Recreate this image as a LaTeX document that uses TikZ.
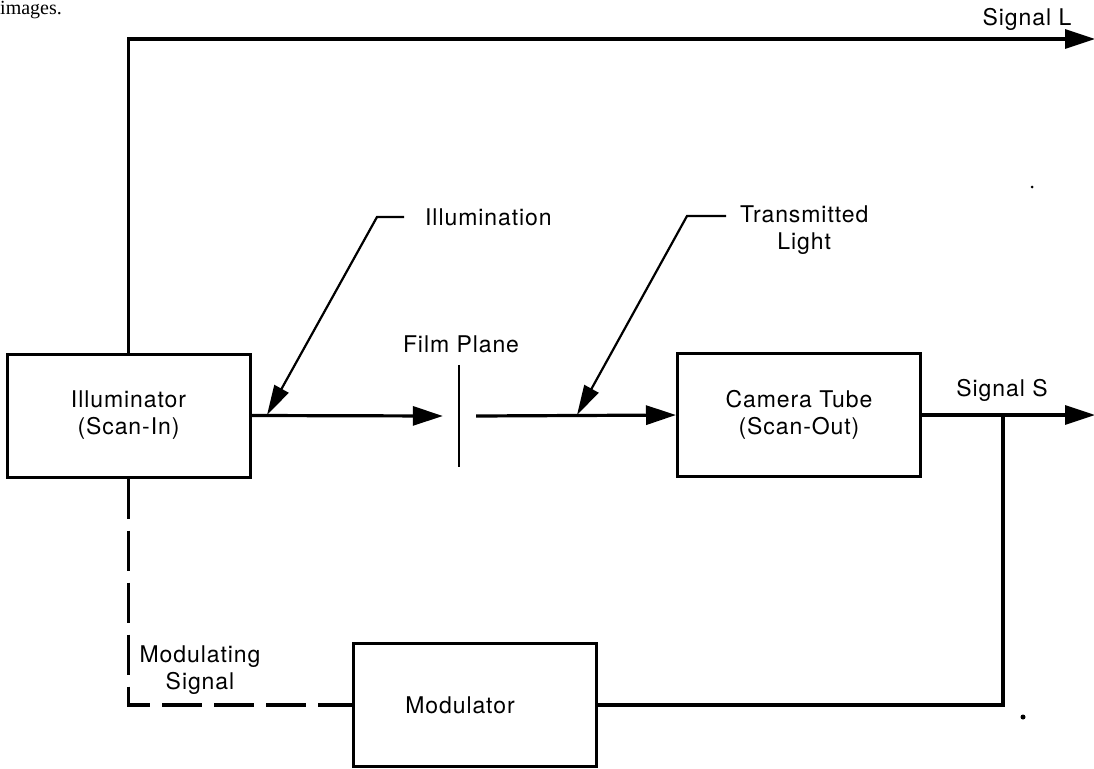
\documentclass[tikz,border=0pt]{standalone}
\usepackage{fontspec}
\setmainfont[LetterSpace=4]{TeX Gyre Heros}
\newfontfamily\serifpage{Liberation Serif}
\usetikzlibrary{arrows.meta}
\tikzset{
  box/.style={draw, line width=3pt, minimum width=243pt, minimum height=123pt, inner sep=0pt, align=center, font=\lbl},
  wire/.style={line width=3.2pt},
  thinwire/.style={line width=2.2pt},
  dashwire/.style={line width=3.2pt, dash pattern=on 40pt off 12pt},
  bigarrow/.style={-{Triangle[length=30pt,width=19pt]}},
  ptrarrow/.style={-{Triangle[length=30pt,width=16pt]}},
  lbl/.style={font=\lbl, inner sep=0pt, align=center},
}
\newcommand{\lbl}{\fontsize{23}{27}\selectfont}
\begin{document}
\begin{tikzpicture}[x=1pt,y=-1pt]
\useasboundingbox (0,0) rectangle (1094,768);
\node[anchor=base west, inner sep=0pt, font=\serifpage\fontsize{20}{24}\selectfont] (pagetext) at (0,15) {images.};

% boxes
\node[box] (illum) at (128.5,415.5) {Illuminator\\(Scan-In)};
\node[box] (cam) at (799,415) {Camera Tube\\(Scan-Out)};
\node[box] (mod) at (475,705) {\hspace*{-30pt}Modulator};

% film plane
\node[minimum height=102pt, minimum width=0pt, inner sep=0pt] (film) at (459,416) {};
\draw[thinwire] (film.north) -- (film.south);
\node[lbl] (filmlbl) at (461,344) {Film Plane};

% output coordinates
\coordinate (sigL) at (1095,39);
\coordinate (sigS) at (1095,415);
\coordinate (junc) at (1003,415);

% top signal L
\draw[wire, bigarrow] (illum.north) |- (sigL);
\node[lbl] (sigLlbl) at (1027,19) {Signal L};

% main optical path
\draw[wire, bigarrow] (illum.east) -- ([xshift=-16pt]film.west);
\draw[wire, bigarrow] ([xshift=17pt]film.east) -- (cam.west);

% signal S
\draw[wire, bigarrow] (cam.east) -- (sigS);
\node[lbl] (sigSlbl) at (1002,390) {Signal S};
\draw[wire] (junc) |- (mod.east);

% modulating signal (dashed)
\draw[dashwire] (illum.south) |- (mod.west);
\node[lbl] (modlbl) at (200,670) {Modulating\\Signal};

% illumination pointer
\node[lbl, anchor=west] (illumlbl) at (425,217) {Illumination};
\coordinate (illtip) at (267,415);
\draw[thinwire, ptrarrow] ([xshift=-21pt]illumlbl.west) -- (377,217) -- (illtip);

% transmitted light pointer
\node[lbl, anchor=west] (translbl) at (740,230) {Transmitted\\Light};
\coordinate (trtip) at (577,415);
\draw[thinwire, ptrarrow] (726,216) -- (687,216) -- (trtip);

% scan specks
\fill (1023,717) circle (2.5pt);
\fill (1032,187) circle (1.5pt);
\end{tikzpicture}
\end{document}
